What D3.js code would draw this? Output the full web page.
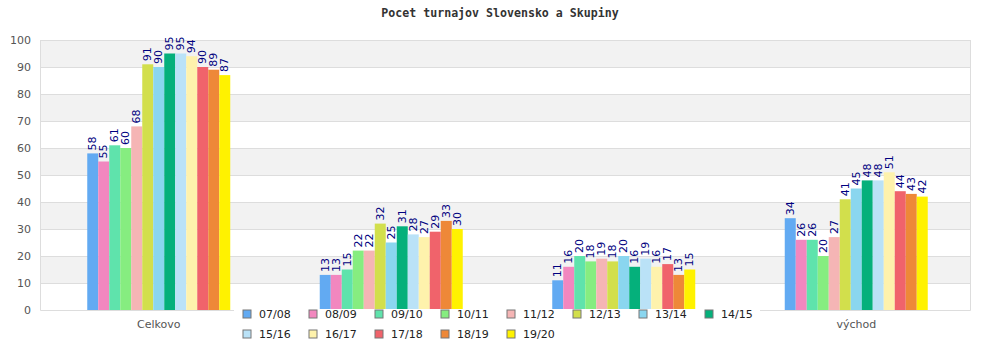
<!DOCTYPE html>
<html>
<head>
<meta charset="utf-8">
<script src="https://cdn.jsdelivr.net/npm/d3@7"></script>
<style>
  html, body { margin: 0; padding: 0; background: #fff; }
  svg { display: block; }
</style>
</head>
<body>
<svg id="chart" width="1000" height="350"></svg>
<script>
// Tournament counts per region and season
const categories = ["Celkovo", "západ", "stred", "východ"];
const seasons = ["07/08", "08/09", "09/10", "10/11", "11/12", "12/13", "13/14",
                 "14/15", "15/16", "16/17", "17/18", "18/19", "19/20"];
const celkovo = [58, 55, 61, 60, 68, 91, 90, 95, 95, 94, 90, 89, 87];
const zapad   = [13, 13, 15, 22, 22, 32, 25, 31, 28, 27, 29, 33, 30];
const stred   = [11, 16, 20, 18, 19, 18, 20, 16, 19, 16, 17, 13, 15];
const vychod  = [34, 26, 26, 20, 27, 41, 45, 48, 48, 51, 44, 43, 42];
const yTicks = [0, 10, 20, 30, 40, 50, 60, 70, 80, 90, 100];
const colors = ["#62aaf2", "#f287bf", "#5fe3ac", "#86ed80", "#f5b5b5", "#d2df4c",
                "#8ad6ef", "#05b07b", "#bae2f7", "#fef2ac", "#f0636b", "#ee8838", "#fff200"];

const seriesByCategory = [celkovo, zapad, stred, vychod];

const svg = d3.select("#chart");
const plotLeft = 40, plotRight = 970, plotTop = 40, plotBottom = 310;

const y = d3.scaleLinear().domain([0, 100]).range([plotBottom, plotTop]);
const x0 = d3.scaleBand().domain(categories).range([plotLeft + 2.5, plotRight + 2.5]);
const groupW = 143;
const x1 = d3.scaleBand().domain(seasons)
  .range([x0.bandwidth() / 2 - groupW / 2, x0.bandwidth() / 2 + groupW / 2]);
const color = d3.scaleOrdinal().domain(seasons).range(colors);

// Legend box geometry (sits over the bottom of the plot)
const legendBox = { x: 234, y: 309, w: 526, h: 38 };

// Title
svg.append("text")
  .attr("x", 500).attr("y", 17)
  .attr("text-anchor", "middle")
  .attr("font-family", "'DejaVu Sans Mono', monospace")
  .attr("font-weight", "bold")
  .attr("font-size", "11.6px")
  .attr("fill", "#333")
  .text("Pocet turnajov Slovensko a Skupiny");

// Alternating background bands
const bands = yTicks.slice(1).filter((t, i) => i % 2 === 0);
svg.append("g").selectAll("rect").data(bands).join("rect")
  .attr("x", plotLeft).attr("width", plotRight - plotLeft)
  .attr("y", d => y(d + 10)).attr("height", d => y(d) - y(d + 10))
  .attr("fill", "#f2f2f2");

// Horizontal grid lines
svg.append("g").selectAll("line").data(yTicks.slice(1)).join("line")
  .attr("x1", plotLeft).attr("x2", plotRight)
  .attr("y1", d => y(d) + 0.5).attr("y2", d => y(d) + 0.5)
  .attr("stroke", "#dddddd").attr("stroke-width", 1);

// Frame (left, right, bottom)
svg.append("path")
  .attr("d", `M${plotLeft + 0.5},${plotTop} V${plotBottom + 0.5} H${plotRight + 0.5} V${plotTop}`)
  .attr("fill", "none").attr("stroke", "#dddddd").attr("stroke-width", 1);

// Y axis labels
const yAxis = d3.axisLeft(y).tickValues(yTicks).tickSize(0).tickPadding(9);
const yg = svg.append("g").attr("transform", `translate(${plotLeft},0)`).call(yAxis);
yg.select(".domain").remove();
yg.selectAll("text")
  .attr("font-family", "'DejaVu Sans', sans-serif")
  .attr("font-size", "11px")
  .attr("fill", "#555");

// X axis labels; those falling under the legend box are left out
const xAxis = d3.axisBottom(x0).tickSize(0).tickPadding(10);
const xg = svg.append("g").attr("transform", `translate(0,${plotBottom})`).call(xAxis);
xg.select(".domain").remove();
xg.selectAll(".tick")
  .filter(d => {
    const cx = x0(d) + x0.bandwidth() / 2;
    return cx > legendBox.x && cx < legendBox.x + legendBox.w;
  })
  .remove();
xg.selectAll("text")
  .attr("font-family", "'DejaVu Sans', sans-serif")
  .attr("font-size", "11px")
  .attr("fill", "#555");

// Bars and value labels
const groups = svg.append("g").selectAll("g").data(categories).join("g")
  .attr("transform", d => `translate(${x0(d)},0)`);

groups.each(function (c, ci) {
  const g = d3.select(this);
  const data = seasons.map((s, i) => ({ season: s, value: seriesByCategory[ci][i] }));
  g.selectAll("rect").data(data).join("rect")
    .attr("x", d => x1(d.season))
    .attr("width", x1.bandwidth())
    .attr("y", d => y(d.value))
    .attr("height", d => y(0) - y(d.value))
    .attr("fill", d => color(d.season));
  g.selectAll("text").data(data).join("text")
    .attr("transform", d => `translate(${x1(d.season) + x1.bandwidth() / 2},${y(d.value) - 3}) rotate(-90)`)
    .attr("dominant-baseline", "central")
    .attr("font-family", "'DejaVu Sans', sans-serif")
    .attr("font-size", "11px")
    .attr("fill", "#000080")
    .text(d => d.value);
});

// Legend
const legend = svg.append("g");
legend.append("rect")
  .attr("x", legendBox.x).attr("y", legendBox.y)
  .attr("width", legendBox.w).attr("height", legendBox.h)
  .attr("fill", "#fff");
const perRow = 8;
const items = legend.selectAll("g").data(seasons).join("g")
  .attr("transform", (d, i) => `translate(${247 + (i % perRow) * 66},${314 + Math.floor(i / perRow) * 20})`);
items.append("rect")
  .attr("x", -4).attr("y", -4).attr("width", 8).attr("height", 8)
  .attr("fill", d => color(d))
  .attr("stroke", "#777").attr("stroke-width", 1);
items.append("text")
  .attr("x", 12).attr("y", 0)
  .attr("dominant-baseline", "central")
  .attr("font-family", "'DejaVu Sans', sans-serif")
  .attr("font-size", "11px")
  .attr("fill", "#222")
  .text(d => d);
</script>
</body>
</html>
